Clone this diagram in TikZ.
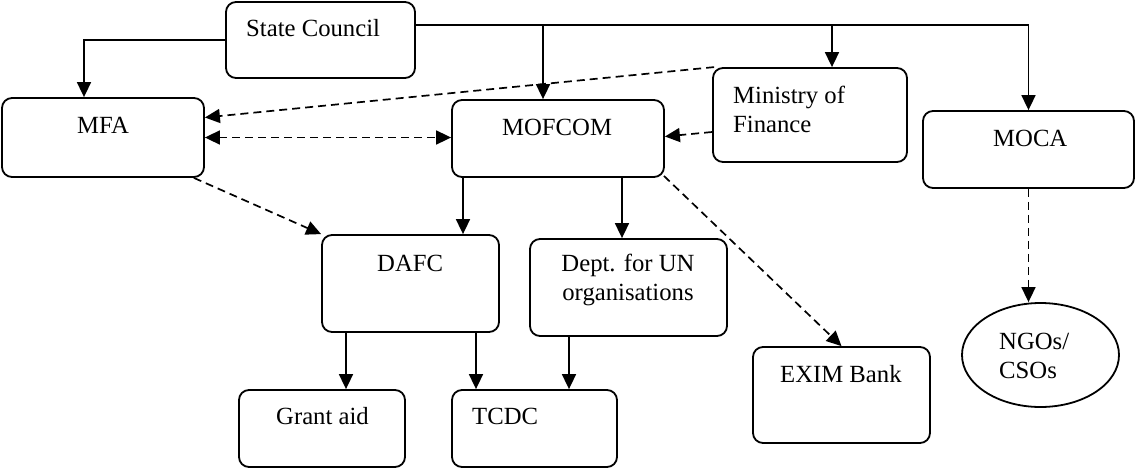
\documentclass[tikz,border=0pt]{standalone}
\usepackage{fontspec}
\setmainfont{Liberation Serif}
\usetikzlibrary{arrows.meta,shapes.geometric,calc}
\begin{document}
\begin{tikzpicture}[x=1pt,y=-1pt,
  box/.style={draw, line width=1.8pt, rounded corners=10pt, inner sep=0pt},
  txt/.style={inner sep=0pt, font=\fontsize{24.7}{29}\selectfont},
  tip/.style={-{Triangle[length=15pt,width=14pt]}},
  arr/.style={line width=1.7pt, tip},
  darr/.style={arr, dash pattern=on 8pt off 5pt},
]
\useasboundingbox (0,0) rectangle (1136,469);
% boxes
\node[box, minimum width=189pt, minimum height=76pt] (sc) at (320.5,40) {};
\node[box, minimum width=202pt, minimum height=79pt] (mfa) at (103,137.5) {};
\node[box, minimum width=212pt, minimum height=77pt] (mofcom) at (558,138.5) {};
\node[box, minimum width=194pt, minimum height=94pt] (mof) at (810,115) {};
\node[box, minimum width=211pt, minimum height=77pt] (moca) at (1028.5,149.5) {};
\node[box, minimum width=177pt, minimum height=97pt] (dafc) at (410.5,283.5) {};
\node[box, minimum width=197pt, minimum height=97pt] (dept) at (628.5,287.5) {};
\node[box, minimum width=166pt, minimum height=77pt] (grant) at (322,428.5) {};
\node[box, minimum width=165pt, minimum height=77pt] (tcdc) at (534.5,428.5) {};
\node[box, minimum width=177pt, minimum height=96pt] (exim) at (841.5,395) {};
\node[draw, ellipse, line width=1.8pt, minimum width=157pt, minimum height=104pt, inner sep=0pt] (ngo) at (1040.5,355) {};
% texts
\node[txt, anchor=base west] (sct) at (246,36) {State Council};
\node[txt, anchor=base west] (mfat) at (77,133) {MFA};
\node[txt, anchor=base west] (mofcomt) at (502,135) {MOFCOM};
\node[txt, anchor=base west, align=left] (moft) at (733,132) {Ministry of\\Finance};
\node[txt, anchor=base west] (mocat) at (993,146) {MOCA};
\node[txt, anchor=base west] (dafct) at (377,271) {DAFC};
\node[txt, anchor=base, align=center] (deptt) at (628,300) {Dept. for UN\\organisations};
\node[txt, anchor=base west] (grantt) at (276,424) {Grant aid};
\node[txt, anchor=base west] (tcdct) at (472,424) {TCDC};
\node[txt, anchor=base west] (eximt) at (780,382) {EXIM Bank};
\node[txt, anchor=base west, align=left] (ngot) at (999,378) {NGOs/\\CSOs};
% connectors
\coordinate (bus) at ([yshift=15pt]sc.east);
\draw[arr] (sc.west) -| ([xshift=-19pt]mfa.north);
\draw[arr] (bus) -| (moca.north);
\draw[arr] ([xshift=-15pt]mofcom.north |- bus) -- ([xshift=-15pt]mofcom.north);
\draw[arr] ([xshift=22pt]mof.north |- bus) -- ([xshift=22pt]mof.north);
\draw[darr] ([xshift=2pt]mof.north west) -- ([yshift=20pt]mfa.east);
\draw[darr, {Triangle[length=15pt,width=14pt]}-{Triangle[length=15pt,width=14pt]}] (mfa.east) -- (mfa.east -| mofcom.west);
\draw[darr] ([yshift=-17pt]mof.west) -- ([yshift=2pt]mofcom.east);
\draw[darr] ([xshift=-11pt]mfa.south east) -- (dafc.north west);
\draw[arr] ([xshift=-95pt]mofcom.south) -- ([xshift=-95pt]mofcom.south |- dafc.north);
\draw[arr] ([xshift=64pt]mofcom.south) -- ([xshift=64pt]mofcom.south |- dept.north);
\draw[darr] ([xshift=-1pt,yshift=2pt]mofcom.south east) -- (exim.north);
\draw[arr] ([xshift=24pt]grant.north |- dafc.south) -- ([xshift=24pt]grant.north);
\draw[arr] ([xshift=-58.5pt]tcdc.north |- dafc.south) -- ([xshift=-58.5pt]tcdc.north);
\draw[arr] ([xshift=34.5pt]tcdc.north |- dept.south) -- ([xshift=34.5pt]tcdc.north);
\draw[darr] (moca.south) -- (moca.south |- ngo.north);
\end{tikzpicture}
\end{document}
